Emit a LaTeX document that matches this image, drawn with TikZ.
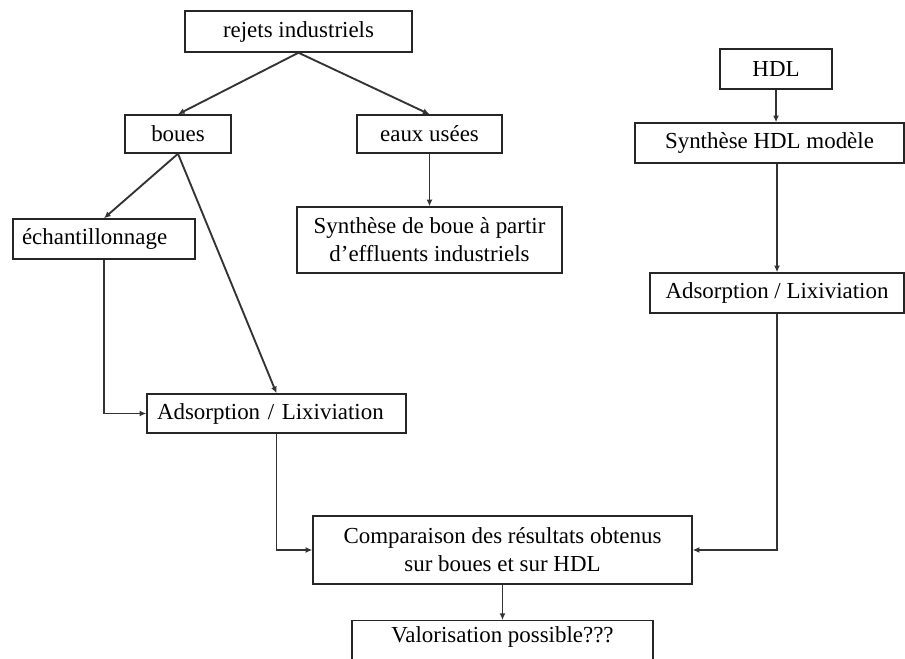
\documentclass[tikz,border=0pt]{standalone}
\usepackage{fontspec}
\setmainfont{Liberation Serif}
\usetikzlibrary{arrows.meta}
\begin{document}
\begin{tikzpicture}[x=0.75pt,y=-0.75pt,
  font=\fontsize{17.2pt}{21pt}\selectfont,
  box/.style={draw=black!85, line width=1.1pt, fill=white, inner ysep=0pt, inner xsep=2pt, align=center},
  conn/.style={draw=black!80, line width=1.4pt, -{Latex[length=5pt,width=4.5pt]}}]
\useasboundingbox (0,0) rectangle (905,659);
\clip (0,0) rectangle (905,659);
% nodes
\node[box, minimum width=170.25pt, minimum height=30.75pt] (rej) at (298.5,31.5) {rejets industriels};
\node[box, minimum width=79.5pt, minimum height=28.5pt] (boues) at (178,134) {boues};
\node[box, minimum width=108.75pt, minimum height=28.5pt] (eaux) at (429.5,134) {eaux usées};
\node[box, inner xsep=6.75pt, text width=123pt, align=left, minimum height=30pt] (ech) at (104,239) {échantillonnage};
\node[box, minimum width=198.75pt, minimum height=49.5pt] (synth) at (429.5,240) {Synthèse de boue à partir\\d’effluents industriels};
\node[box, inner xsep=7.5pt, text width=179.25pt, align=left, minimum height=29.25pt] (adsL) at (276.5,413.5) {Adsorption / Lixiviation};
\node[box, minimum width=84pt, minimum height=30pt] (hdl) at (776,69) {HDL};
\node[box, minimum width=201.75pt, minimum height=30pt] (synHDL) at (769.5,143) {Synthèse HDL modèle};
\node[box, minimum width=190.5pt, minimum height=30pt] (adsR) at (777,293) {Adsorption / Lixiviation};
\node[box, minimum width=284.25pt, minimum height=51pt] (comp) at (502.5,550) {Comparaison des résultats obtenus\\sur boues et sur HDL};
\node[box, minimum width=225.75pt, text height=16pt, text depth=18pt, anchor=north] (valo) at (502.5,620) {Valorisation possible???};
% connectors
\draw[conn] (rej.south) -- (boues.north);
\draw[conn] (rej.south) -- (eaux.north);
\draw[conn] (boues.south) -- (ech.north);
\draw[conn] (boues.south) -- (adsL.north);
\draw[conn] (eaux.south) -- (synth.north);
\draw[conn] (ech.south) |- (adsL.west);
\draw[conn] (adsL.south) |- (comp.west);
\draw[conn] (hdl.south) -- (hdl.south |- synHDL.north);
\draw[conn] (adsR.north |- synHDL.south) -- (adsR.north);
\draw[conn] (adsR.south) |- (comp.east);
\draw[conn] (comp.south) -- (valo.north);
\end{tikzpicture}
\end{document}
